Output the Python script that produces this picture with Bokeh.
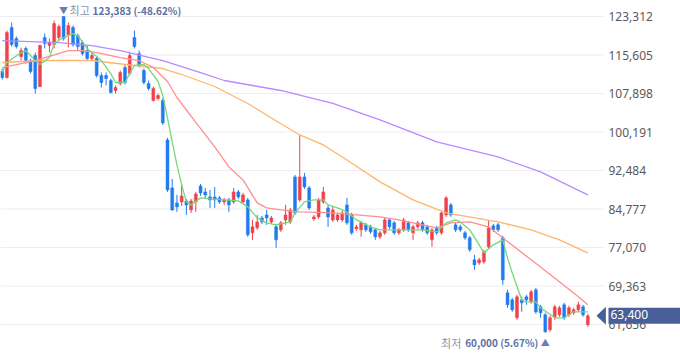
from bokeh.plotting import figure
from bokeh.models import ColumnDataSource, Label, Range1d, PolyAnnotation
from bokeh.core.properties import value
from bokeh.embed import file_html
from bokeh.resources import INLINE

# ---------------- data (daily candles, oldest -> newest) ----------------
opens = [112300, 111100, 121100, 118900, 115300, 116900, 114500, 115500, 109300, 119100,
         117500, 117700, 119100, 123300, 119700, 121100, 119500, 118100, 116500, 114900,
         114900, 111500, 111500, 110500, 108500, 109900, 113100, 111900, 119100, 115900,
         112500, 109900, 106500, 106900, 106500, 98600, 89000, 86000, 86200, 86400,
         84600, 86200, 89400, 88200, 87200, 87200, 87000, 86200, 86600, 86200,
         88200, 86200, 86600, 80000, 81000, 83000, 83600, 82200, 81200, 80600,
         82600, 82200, 91200, 86600, 91200, 89000, 82800, 83200, 86200, 85000,
         82600, 82600, 82600, 85600, 83600, 80800, 80600, 81600, 81200, 80600,
         79200, 80000, 82600, 82000, 80000, 80600, 82000, 80000, 81200, 82000,
         81200, 78600, 81000, 80000, 83600, 85600, 81600, 81200, 80000, 79000,
         74600, 74000, 74200, 77200, 81400, 81600, 79000, 68000, 66600, 63000,
         66600, 67200, 66200, 68600, 65200, 63600, 60600, 63200, 63600, 65600,
         63600, 64000, 64600, 65200, 61600]
highs = [112900, 120500, 122100, 119300, 117100, 117300, 114900, 116100, 117700, 119900,
         118900, 122500, 121700, 123383, 122100, 121500, 119900, 118500, 117500, 116100,
         115300, 112100, 112100, 110900, 109500, 112500, 113700, 116100, 120500, 116500,
         112900, 110500, 109300, 107900, 106900, 99000, 90800, 87600, 89600, 86800,
         86800, 88200, 89800, 89000, 88600, 89200, 87400, 87000, 87000, 89000,
         88600, 88000, 87000, 82600, 83600, 83400, 84600, 83400, 81800, 82400,
         85600, 85000, 91600, 99600, 92000, 89400, 83600, 87000, 89200, 85600,
         85200, 84000, 84400, 87000, 84000, 81600, 82400, 82000, 81600, 81000,
         80400, 83000, 83000, 82400, 81000, 83000, 82400, 81600, 82400, 82400,
         81600, 81000, 81400, 84400, 87400, 86000, 82000, 81600, 80400, 79400,
         75600, 75000, 76600, 82400, 81800, 82000, 79400, 68600, 67000, 67600,
         67200, 67600, 68600, 69000, 65600, 64000, 63400, 65600, 65400, 66000,
         65400, 65000, 66200, 65600, 63800]
lows = [110700, 110900, 117300, 116900, 114500, 113900, 111900, 107900, 109100, 116900,
        116100, 116900, 118500, 118500, 117100, 117300, 116500, 115500, 114500, 114500,
        111100, 109100, 109500, 107900, 107900, 109500, 109700, 111500, 116900, 113100,
        109700, 108500, 106300, 106500, 101600, 88200, 84400, 84200, 85400, 83600,
        84000, 84200, 87400, 87000, 85000, 85000, 85800, 85600, 84200, 85800,
        86800, 85800, 79200, 78600, 80600, 81800, 81600, 81800, 77000, 80200,
        81600, 81800, 83600, 86200, 88800, 84600, 82400, 82800, 85800, 81200,
        82200, 82200, 82200, 81600, 79600, 80400, 79200, 80200, 79800, 78600,
        78800, 79600, 80800, 79600, 79600, 80200, 80200, 78600, 80800, 80200,
        79600, 77200, 79600, 79600, 83200, 83200, 80200, 80200, 78600, 76200,
        72600, 73600, 73800, 76800, 80200, 80200, 69600, 65000, 64200, 62600,
        64200, 65600, 65800, 63800, 63000, 60000, 60200, 62600, 63200, 62600,
        63200, 63600, 64200, 63200, 61200]
closes = [111100, 120100, 117700, 117300, 116500, 114500, 112300, 108900, 117500, 117900,
          118100, 121900, 121300, 118900, 121500, 117700, 117300, 115900, 114900, 115500,
          111500, 110100, 110900, 108100, 109100, 112100, 110100, 115500, 117300, 113500,
          110100, 108900, 108900, 107500, 102000, 88600, 84600, 85200, 87400, 85600,
          86400, 87800, 88000, 87600, 86600, 86600, 86200, 86600, 85600, 88200,
          87200, 87600, 79600, 81200, 82200, 82200, 83000, 83000, 78600, 82000,
          83600, 84600, 84000, 91200, 89200, 85000, 83200, 86600, 88200, 83200,
          84600, 83600, 84000, 82000, 80000, 81200, 82000, 80600, 80200, 79200,
          80000, 82600, 81200, 80000, 80600, 82600, 80600, 81200, 82000, 80600,
          80000, 80600, 80000, 84000, 87000, 83600, 80600, 80600, 79000, 76600,
          73600, 74600, 76200, 81000, 80600, 80600, 70600, 65600, 64600, 67200,
          66000, 66600, 68200, 64200, 64000, 60200, 63000, 65200, 65000, 63000,
          65000, 64600, 65600, 63600, 63400]

# moving averages (candle index, value)
ma5_idx = [0, 1, 4, 5, 7, 8, 10, 11, 13, 15, 16, 18, 21, 23, 24, 26, 27, 28, 30, 31,
           33, 34, 35, 36, 37, 38, 39, 40, 42, 44, 50, 52, 54, 56, 58, 61, 62, 64, 66, 68,
           69, 71, 73, 75, 78, 80, 84, 89, 92, 94, 96, 97, 99, 101, 102, 104, 106, 107, 108, 110,
           111, 113, 114, 117, 119, 121, 124]
ma5_val = [112100, 114100, 116100, 116500, 114500, 113700, 115100, 117900, 119100, 119900,
           119500, 116900, 114500, 111900, 110100, 110100, 111900, 113500, 113700, 112900,
           110300, 107500, 103000, 98200, 93600, 89600, 86200, 85600, 87000, 86800,
           86400, 85200, 83000, 82000, 81600, 82200, 84000, 86200, 86600, 86600,
           85600, 85000, 84200, 82600, 81200, 80600, 80600, 80600, 80200, 82000,
           82600, 82200, 80600, 77600, 76000, 77600, 78600, 75000, 72000, 66600,
           66200, 66200, 65000, 63000, 63000, 64200, 64200]
ma20_idx = [0, 7, 14, 17, 20, 25, 29, 32, 35, 37, 41, 45, 48, 51, 54, 56, 59, 63, 70, 75,
            80, 84, 89, 92, 95, 99, 103, 106, 112, 118, 122, 124]
ma20_val = [113100, 114500, 116500, 116500, 116100, 115100, 114500, 113100, 110300, 107100,
            102100, 97200, 93200, 90600, 86000, 85000, 84600, 84200, 84000, 83600,
            83200, 82600, 81600, 81000, 82000, 82200, 81200, 79000, 74600, 70200,
            67200, 65600]
ma60_idx = [0, 9, 19, 28, 34, 38, 45, 52, 57, 63, 68, 73, 80, 87, 94, 105, 112, 118, 124]
ma60_val = [114100, 114500, 114500, 113500, 112900, 111700, 109300, 105900, 103000, 99600,
            97600, 94600, 90200, 86600, 84000, 82200, 80600, 78600, 76000]
ma120_idx = [0, 6, 12, 19, 25, 34, 42, 47, 53, 59, 70, 80, 92, 105, 114, 124]
ma120_val = [118500, 118300, 118100, 117500, 116500, 114500, 112100, 110500, 109500, 108500,
             105900, 102600, 98200, 95200, 92200, 87600]

y_ticks = [123312, 115605, 107898, 100191, 92484, 84777, 77070, 69363, 61656]
last_price = 63400
max_idx, max_price, max_pct = 13, 123383, "-48.62%"
min_idx, min_price, min_pct = 115, 60000, "5.67%"

# ---------------- styling / layout ----------------
UP, DOWN = "#f0414b", "#1f7bf0"
C5, C20, C60, C120 = "#78d678", "#ff8f8f", "#ffb56e", "#b98aff"
TAG = "#485f9a"
GRID = "#ededf2"
W, H = 680, 358
PX = 4.7226                # pixels per candle
X0 = -1.7 / PX             # left edge of the frame
X1 = X0 + 603 / PX         # right end of the price area (grid end)
XE = X0 + W / PX           # right edge of the frame (tick-label column inside)
PY = 200.18                # price units per pixel
Y1 = y_ticks[0] + 16 * PY
Y0 = Y1 - H * PY

n = len(closes)
idx = list(range(n))
src = ColumnDataSource(dict(
    x=idx, high=highs, low=lows,
    top=[max(o, c) for o, c in zip(opens, closes)],
    bottom=[min(o, c) for o, c in zip(opens, closes)],
    color=[UP if c >= o else DOWN for o, c in zip(opens, closes)]))

p = figure(width=W, height=H, output_backend="svg", toolbar_location=None,
           x_range=Range1d(X0, XE), y_range=Range1d(Y0, Y1),
           x_axis_location=None, y_axis_location=None,
           min_border_left=0, min_border_top=0, min_border_bottom=0, min_border_right=0,
           background_fill_color="white", border_fill_color="white")
p.outline_line_color = None
p.grid.visible = False

# horizontal grid lines (price area only) and price labels on the right
p.segment(x0=[X0] * len(y_ticks), x1=[X1] * len(y_ticks), y0=y_ticks, y1=y_ticks,
          line_color=GRID, line_width=1)
p.text(x=[X1] * len(y_ticks), y=y_ticks, text=[f"{t:,}" for t in y_ticks],
       x_offset=5, text_baseline="middle", text_align="left",
       text_font=value("Noto Sans"), text_font_size="12px", text_color="#5a5a5a")

# candles
p.segment(x0="x", y0="high", x1="x", y1="low", source=src, line_color="color", line_width=1)
p.vbar(x="x", width=0.62, top="top", bottom="bottom", source=src,
       fill_color="color", line_color="color", line_width=0.5)

# moving averages
p.line(ma120_idx, ma120_val, line_color=C120, line_width=1.3)
p.line(ma60_idx, ma60_val, line_color=C60, line_width=1.3)
p.line(ma20_idx, ma20_val, line_color=C20, line_width=1.3)
p.line(ma5_idx, ma5_val, line_color=C5, line_width=1.3)

KFONT = "Noto Sans CJK KR"
FS = "10px"
# max annotation
p.add_layout(Label(x=max_idx, y=max_price, text="▼", text_align="center",
                   text_baseline="middle", y_offset=6, text_color="#6a7db5",
                   text_font=KFONT, text_font_size="9px"))
p.add_layout(Label(x=max_idx, y=max_price, text="최고", text_align="left",
                   text_baseline="middle", x_offset=6, y_offset=6, text_color="#8b93ab",
                   text_font=KFONT, text_font_size="11px"))
p.add_layout(Label(x=max_idx, y=max_price, text=f"{max_price:,} ({max_pct})",
                   text_align="left", text_baseline="middle", x_offset=29, y_offset=6,
                   text_color="#5d6f9f", text_font=KFONT, text_font_size=FS,
                   text_font_style="bold"))
# min annotation
p.add_layout(Label(x=min_idx, y=min_price, text="▲", text_align="center",
                   text_baseline="middle", y_offset=-10, text_color="#6a7db5",
                   text_font=KFONT, text_font_size="9px"))
p.add_layout(Label(x=min_idx, y=min_price, text=f"{min_price:,} ({min_pct})",
                   text_align="right", text_baseline="middle", x_offset=-7, y_offset=-10,
                   text_color="#5d6f9f", text_font=KFONT, text_font_size=FS,
                   text_font_style="bold"))
p.add_layout(Label(x=min_idx, y=min_price, text="최저", text_align="right",
                   text_baseline="middle", x_offset=-84, y_offset=-10, text_color="#8b93ab",
                   text_font=KFONT, text_font_size="11px"))

# current price tag
p.add_layout(PolyAnnotation(
    xs=[X1 - 7 / PX, X1 + 0.5, X1 + 0.5],
    ys=[last_price, last_price + 9 * PY, last_price - 9 * PY],
    fill_color=TAG, fill_alpha=1, line_color=None))
p.add_layout(Label(x=X1, y=last_price, x_offset=5, text=f"{last_price:,}",
                   text_align="left", text_baseline="middle", text_color="white",
                   text_font="Noto Sans", text_font_size="12px",
                   background_fill_color=TAG, background_fill_alpha=1,
                   padding=(2, 40, 2, 5)))

open("out.html", "w").write(file_html(p, INLINE))
